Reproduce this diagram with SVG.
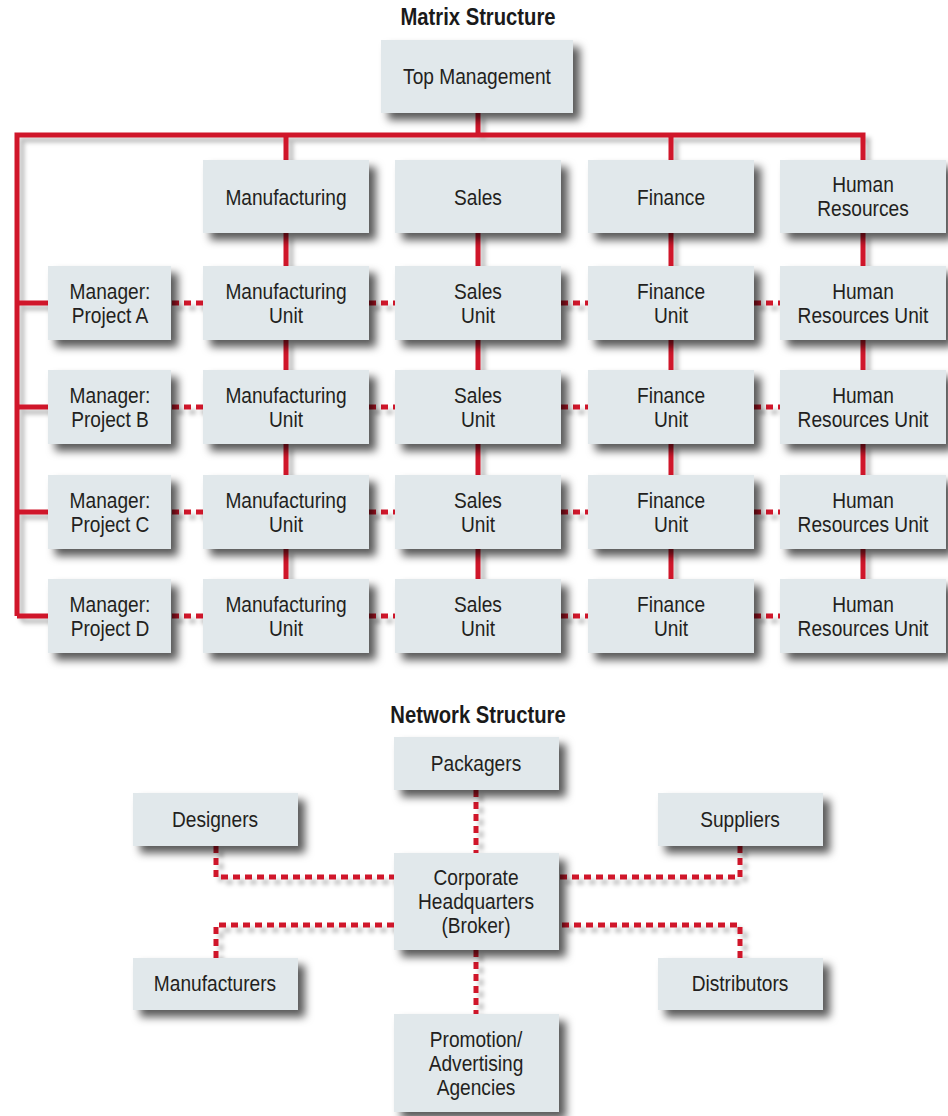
<svg xmlns="http://www.w3.org/2000/svg" width="948" height="1116" viewBox="0 0 948 1116">
  <defs>
    <filter id="boxShadow" x="-20%" y="-20%" width="150%" height="170%">
      <feDropShadow dx="7" dy="7" stdDeviation="4" flood-color="#000" flood-opacity="0.65"/>
    </filter>
    <filter id="lineShadow" x="-20%" y="-20%" width="150%" height="150%">
      <feDropShadow dx="5" dy="5" stdDeviation="2" flood-color="#000" flood-opacity="0.25"/>
    </filter>
  </defs>
  <style>
    .box { fill: #e1e8eb; filter: url(#boxShadow); }
    .lbl { font-family: "Liberation Sans", Arial, sans-serif; font-size: 22px; fill: #231f20; text-anchor: middle; }
    .title { font-family: "Liberation Sans", Arial, sans-serif; font-size: 23px; font-weight: bold; fill: #1a1a1a; text-anchor: middle; }
    .solid { stroke: #d0142c; stroke-width: 5; fill: none; }
    .dash { stroke: #d0142c; stroke-width: 5; fill: none; stroke-dasharray: 7 5; }
    .conn { filter: url(#lineShadow); }
  </style>

  <rect width="948" height="1116" fill="#ffffff"/>

  <!-- Matrix organisation -->
  <text class="title" transform="translate(478 25) scale(0.88 1)">Matrix Structure</text>

  <g id="matrix-connectors" class="conn">
    <!-- reporting lines -->
    <path class="solid" d="M478 113 V135 M17 616 V135 H863 V160 M286 135 V160 M671 135 V160"/>
    <path class="solid" d="M17 303 H48 M17 407 H48 M17 512 H48 M17 616 H48"/>
    <path class="solid" d="M286 233 V266 M478 233 V266 M671 233 V266 M863 233 V266
                           M286 340 V370 M478 340 V370 M671 340 V370 M863 340 V370
                           M286 444 V475 M478 444 V475 M671 444 V475 M863 444 V475
                           M286 549 V579 M478 549 V579 M671 549 V579 M863 549 V579"/>
    <!-- project lines -->
    <path class="dash" d="M172 303 H203 M369 303 H395 M561 303 H588 M754 303 H780
                          M172 407 H203 M369 407 H395 M561 407 H588 M754 407 H780
                          M172 512 H203 M369 512 H395 M561 512 H588 M754 512 H780
                          M172 616 H203 M369 616 H395 M561 616 H588 M754 616 H780"/>
  </g>

  <g id="top-management"><rect class="box" x="381" y="40" width="192" height="73"/><text class="lbl" transform="translate(477 84) scale(0.87 1)">Top Management</text></g>

  <g id="manufacturing"><rect class="box" x="203" y="160" width="166" height="73"/><text class="lbl" transform="translate(286 205) scale(0.87 1)">Manufacturing</text></g>
  <g id="sales"><rect class="box" x="395" y="160" width="166" height="73"/><text class="lbl" transform="translate(478 205) scale(0.87 1)">Sales</text></g>
  <g id="finance"><rect class="box" x="588" y="160" width="166" height="73"/><text class="lbl" transform="translate(671 205) scale(0.87 1)">Finance</text></g>
  <g id="human-resources"><rect class="box" x="780" y="160" width="166" height="73"/><text class="lbl" transform="translate(863 192) scale(0.87 1)">Human</text><text class="lbl" transform="translate(863 216) scale(0.87 1)">Resources</text></g>

  <!-- project A -->
  <g id="manager-a"><rect class="box" x="48" y="266" width="123" height="74"/><text class="lbl" transform="translate(110 299) scale(0.87 1)">Manager:</text><text class="lbl" transform="translate(110 323) scale(0.87 1)">Project A</text></g>
  <g id="mfg-a"><rect class="box" x="203" y="266" width="166" height="74"/><text class="lbl" transform="translate(286 299) scale(0.87 1)">Manufacturing</text><text class="lbl" transform="translate(286 323) scale(0.87 1)">Unit</text></g>
  <g id="sales-a"><rect class="box" x="395" y="266" width="166" height="74"/><text class="lbl" transform="translate(478 299) scale(0.87 1)">Sales</text><text class="lbl" transform="translate(478 323) scale(0.87 1)">Unit</text></g>
  <g id="fin-a"><rect class="box" x="588" y="266" width="166" height="74"/><text class="lbl" transform="translate(671 299) scale(0.87 1)">Finance</text><text class="lbl" transform="translate(671 323) scale(0.87 1)">Unit</text></g>
  <g id="hr-a"><rect class="box" x="780" y="266" width="166" height="74"/><text class="lbl" transform="translate(863 299) scale(0.87 1)">Human</text><text class="lbl" transform="translate(863 323) scale(0.87 1)">Resources Unit</text></g>

  <!-- project B -->
  <g id="manager-b"><rect class="box" x="48" y="370" width="123" height="74"/><text class="lbl" transform="translate(110 403) scale(0.87 1)">Manager:</text><text class="lbl" transform="translate(110 427) scale(0.87 1)">Project B</text></g>
  <g id="mfg-b"><rect class="box" x="203" y="370" width="166" height="74"/><text class="lbl" transform="translate(286 403) scale(0.87 1)">Manufacturing</text><text class="lbl" transform="translate(286 427) scale(0.87 1)">Unit</text></g>
  <g id="sales-b"><rect class="box" x="395" y="370" width="166" height="74"/><text class="lbl" transform="translate(478 403) scale(0.87 1)">Sales</text><text class="lbl" transform="translate(478 427) scale(0.87 1)">Unit</text></g>
  <g id="fin-b"><rect class="box" x="588" y="370" width="166" height="74"/><text class="lbl" transform="translate(671 403) scale(0.87 1)">Finance</text><text class="lbl" transform="translate(671 427) scale(0.87 1)">Unit</text></g>
  <g id="hr-b"><rect class="box" x="780" y="370" width="166" height="74"/><text class="lbl" transform="translate(863 403) scale(0.87 1)">Human</text><text class="lbl" transform="translate(863 427) scale(0.87 1)">Resources Unit</text></g>

  <!-- project C -->
  <g id="manager-c"><rect class="box" x="48" y="475" width="123" height="74"/><text class="lbl" transform="translate(110 508) scale(0.87 1)">Manager:</text><text class="lbl" transform="translate(110 532) scale(0.87 1)">Project C</text></g>
  <g id="mfg-c"><rect class="box" x="203" y="475" width="166" height="74"/><text class="lbl" transform="translate(286 508) scale(0.87 1)">Manufacturing</text><text class="lbl" transform="translate(286 532) scale(0.87 1)">Unit</text></g>
  <g id="sales-c"><rect class="box" x="395" y="475" width="166" height="74"/><text class="lbl" transform="translate(478 508) scale(0.87 1)">Sales</text><text class="lbl" transform="translate(478 532) scale(0.87 1)">Unit</text></g>
  <g id="fin-c"><rect class="box" x="588" y="475" width="166" height="74"/><text class="lbl" transform="translate(671 508) scale(0.87 1)">Finance</text><text class="lbl" transform="translate(671 532) scale(0.87 1)">Unit</text></g>
  <g id="hr-c"><rect class="box" x="780" y="475" width="166" height="74"/><text class="lbl" transform="translate(863 508) scale(0.87 1)">Human</text><text class="lbl" transform="translate(863 532) scale(0.87 1)">Resources Unit</text></g>

  <!-- project D -->
  <g id="manager-d"><rect class="box" x="48" y="579" width="123" height="74"/><text class="lbl" transform="translate(110 612) scale(0.87 1)">Manager:</text><text class="lbl" transform="translate(110 636) scale(0.87 1)">Project D</text></g>
  <g id="mfg-d"><rect class="box" x="203" y="579" width="166" height="74"/><text class="lbl" transform="translate(286 612) scale(0.87 1)">Manufacturing</text><text class="lbl" transform="translate(286 636) scale(0.87 1)">Unit</text></g>
  <g id="sales-d"><rect class="box" x="395" y="579" width="166" height="74"/><text class="lbl" transform="translate(478 612) scale(0.87 1)">Sales</text><text class="lbl" transform="translate(478 636) scale(0.87 1)">Unit</text></g>
  <g id="fin-d"><rect class="box" x="588" y="579" width="166" height="74"/><text class="lbl" transform="translate(671 612) scale(0.87 1)">Finance</text><text class="lbl" transform="translate(671 636) scale(0.87 1)">Unit</text></g>
  <g id="hr-d"><rect class="box" x="780" y="579" width="166" height="74"/><text class="lbl" transform="translate(863 612) scale(0.87 1)">Human</text><text class="lbl" transform="translate(863 636) scale(0.87 1)">Resources Unit</text></g>

  <!-- Network organisation -->
  <text class="title" transform="translate(478 723) scale(0.88 1)">Network Structure</text>

  <g id="network-connectors" class="conn">
    <path class="dash" d="M476 790 V853 M476 950 V1014"/>
    <path class="dash" d="M216 846 V877 H394 M216 958 V925 H394"/>
    <path class="dash" d="M740 846 V877 H559 M740 958 V925 H559"/>
  </g>

  <g id="packagers"><rect class="box" x="394" y="737" width="165" height="53"/><text class="lbl" transform="translate(476 771) scale(0.87 1)">Packagers</text></g>
  <g id="designers"><rect class="box" x="133" y="793" width="165" height="53"/><text class="lbl" transform="translate(215 827) scale(0.87 1)">Designers</text></g>
  <g id="suppliers"><rect class="box" x="658" y="793" width="165" height="53"/><text class="lbl" transform="translate(740 827) scale(0.87 1)">Suppliers</text></g>
  <g id="headquarters"><rect class="box" x="394" y="853" width="165" height="97"/><text class="lbl" transform="translate(476 885) scale(0.87 1)">Corporate</text><text class="lbl" transform="translate(476 909) scale(0.87 1)">Headquarters</text><text class="lbl" transform="translate(476 933) scale(0.87 1)">(Broker)</text></g>
  <g id="manufacturers"><rect class="box" x="133" y="958" width="165" height="52"/><text class="lbl" transform="translate(215 991) scale(0.87 1)">Manufacturers</text></g>
  <g id="distributors"><rect class="box" x="658" y="958" width="165" height="52"/><text class="lbl" transform="translate(740 991) scale(0.87 1)">Distributors</text></g>
  <g id="promotion"><rect class="box" x="394" y="1014" width="165" height="98"/><text class="lbl" transform="translate(476 1047) scale(0.87 1)">Promotion/</text><text class="lbl" transform="translate(476 1071) scale(0.87 1)">Advertising</text><text class="lbl" transform="translate(476 1095) scale(0.87 1)">Agencies</text></g>
</svg>
